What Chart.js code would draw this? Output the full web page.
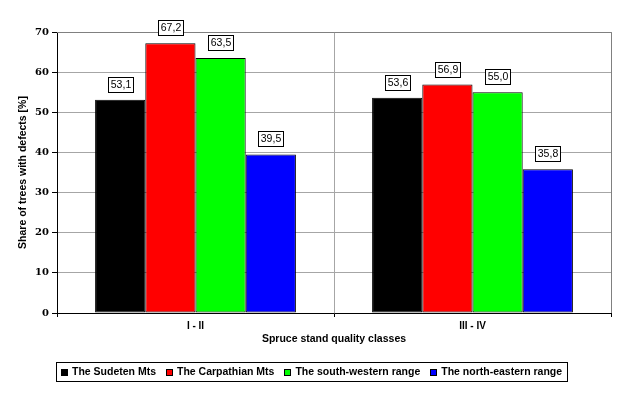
<!DOCTYPE html>
<html>
<head>
<meta charset="utf-8">
<script src="https://cdn.jsdelivr.net/npm/chart.js@4/dist/chart.umd.min.js"></script>
<style>
  html, body { margin: 0; padding: 0; background: #ffffff; }
  #wrap { width: 634px; height: 398px; }
</style>
</head>
<body>
<div id="wrap"><canvas id="c" width="634" height="398"></canvas></div>
<script>
const categories = ['I - II', 'III - IV'];
const seriesNames = ['The Sudeten Mts', 'The Carpathian Mts', 'The south-western range', 'The north-eastern range'];
const sudeten = [53.1, 53.6];
const carpathian = [67.2, 56.9];
const southWestern = [63.5, 55.0];
const northEastern = [39.5, 35.8];
const seriesColors = ['#000000', '#ff0000', '#00ff00', '#0000ff'];
const yTitle = 'Share of trees with defects [%]';
const xTitle = 'Spruce stand quality classes';

const seriesValues = [sudeten, carpathian, southWestern, northEastern];
const SANS = "'Liberation Sans', Arial, sans-serif";

const dataLabelPlugin = {
  id: 'dataLabels',
  afterDatasetsDraw(chart) {
    const ctx = chart.ctx;
    ctx.save();
    ctx.font = '10.5px ' + SANS;
    ctx.textAlign = 'center';
    ctx.textBaseline = 'middle';
    chart.data.datasets.forEach((ds, di) => {
      const meta = chart.getDatasetMeta(di);
      meta.data.forEach((el, i) => {
        const txt = ds.data[i].toFixed(1).replace('.', ',');
        const w = Math.round(ctx.measureText(txt).width) + 5;
        const h = 15;
        const bx = Math.round(el.x - w / 2) + 0.5;
        const by = Math.round(el.y - 8 - h) + 0.5;
        ctx.fillStyle = '#ffffff';
        ctx.fillRect(bx, by, w, h);
        ctx.strokeStyle = '#000000';
        ctx.lineWidth = 1;
        ctx.strokeRect(bx, by, w, h);
        ctx.fillStyle = '#000000';
        ctx.fillText(txt, bx + w / 2, by + h / 2 + 0.5);
      });
    });
    ctx.restore();
  }
};

const frameAndLegendPlugin = {
  id: 'frameLegend',
  beforeDatasetsDraw(chart) {
    const {ctx, chartArea} = chart;
    ctx.save();
    ctx.strokeStyle = '#808080';
    ctx.lineWidth = 1;
    ctx.beginPath();
    ctx.moveTo(Math.round(chartArea.left), Math.round(chartArea.top) + 0.5);
    ctx.lineTo(Math.round(chartArea.right) + 0.5, Math.round(chartArea.top) + 0.5);
    ctx.lineTo(Math.round(chartArea.right) + 0.5, Math.round(chartArea.bottom));
    ctx.stroke();
    ctx.restore();
  },
  afterDraw(chart) {
    const {ctx, chartArea} = chart;
    ctx.save();
    ctx.font = 'bold 10.5px ' + SANS;
    ctx.textBaseline = 'middle';
    ctx.textAlign = 'left';
    const sw = 7, gapS = 4, gapI = 10, padX = 5;
    const left = Math.round(chartArea.left) - 1;
    const top = 362;
    const h = 19;
    let x = left + padX;
    const items = chart.data.datasets.map(ds => ({label: ds.label, color: ds.backgroundColor}));
    let total = padX;
    items.forEach((it, i) => {
      total += sw + gapS + ctx.measureText(it.label).width + (i < items.length - 1 ? gapI : 0);
    });
    total += padX;
    ctx.fillStyle = '#ffffff';
    ctx.fillRect(left + 0.5, top + 0.5, Math.round(total), h);
    ctx.strokeStyle = '#000000';
    ctx.lineWidth = 1;
    ctx.strokeRect(left + 0.5, top + 0.5, Math.round(total), h);
    const cy = top + h / 2 + 1;
    items.forEach((it) => {
      const sx = Math.round(x) + 0.5;
      const sy = Math.round(cy - sw / 2) + 0.5;
      ctx.fillStyle = it.color;
      ctx.fillRect(sx, sy, sw - 1, sw - 1);
      ctx.strokeStyle = '#000000';
      ctx.strokeRect(sx, sy, sw - 1, sw - 1);
      x += sw + gapS;
      ctx.fillStyle = '#000000';
      ctx.fillText(it.label, x, cy);
      x += ctx.measureText(it.label).width + gapI;
    });
    ctx.restore();
  }
};

new Chart(document.getElementById('c'), {
  type: 'bar',
  data: {
    labels: categories,
    datasets: seriesNames.map((name, i) => ({
      label: name,
      data: seriesValues[i],
      backgroundColor: seriesColors[i],
      borderColor: '#000000',
      borderWidth: 1,
      borderSkipped: false,
      categoryPercentage: 0.725,
      barPercentage: 1.0
    }))
  },
  options: {
    responsive: false,
    devicePixelRatio: 1,
    animation: false,
    layout: { padding: { top: 32, right: 23, left: 0, bottom: 53 } },
    plugins: {
      legend: { display: false },
      tooltip: { enabled: false },
      title: { display: false }
    },
    scales: {
      x: {
        offset: true,
        grid: {
          offset: true,
          color: '#a6a6a6',
          tickColor: '#000000',
          tickLength: 4,
          drawOnChartArea: true
        },
        border: { display: true, color: '#000000', width: 1 },
        ticks: {
          color: '#000000',
          font: { family: SANS, size: 10, weight: 'bold' },
          padding: 3,
          maxRotation: 0
        },
        title: {
          display: true,
          text: xTitle,
          color: '#000000',
          font: { family: SANS, size: 10.5, weight: 'bold' },
          padding: { top: 1, bottom: 0 }
        },
        afterFit(scale) { scale.height = 32; }
      },
      y: {
        min: 0,
        max: 70,
        ticks: {
          stepSize: 10,
          color: '#000000',
          font: { family: "'DejaVu Serif', serif", size: 10, weight: 'bold' },
          padding: 3
        },
        grid: {
          color: '#a6a6a6',
          tickColor: '#000000',
          tickLength: 5
        },
        border: { display: true, color: '#000000', width: 1 },
        title: {
          display: true,
          text: yTitle,
          color: '#000000',
          font: { family: SANS, size: 10.5, weight: 'bold' },
          padding: { top: 17, bottom: 0 }
        },
        afterFit(scale) { scale.width = 57; }
      }
    }
  },
  plugins: [dataLabelPlugin, frameAndLegendPlugin]
});
</script>
</body>
</html>
